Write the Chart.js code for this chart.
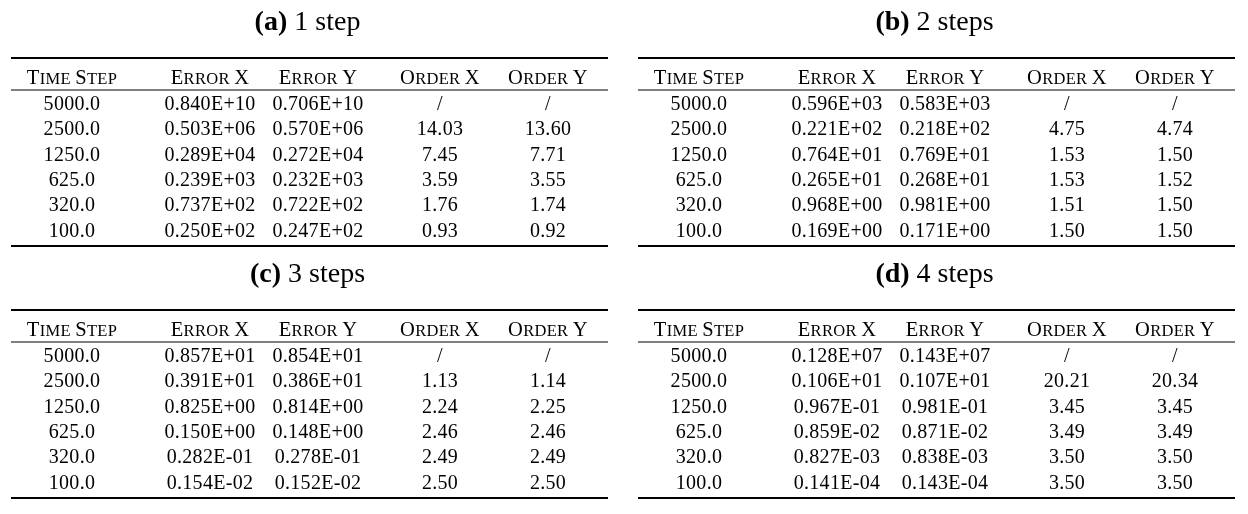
<!DOCTYPE html>
<html><head><meta charset="utf-8">
<script src="https://cdn.jsdelivr.net/npm/chart.js@4.4.1/dist/chart.umd.min.js"></script>
<style>html,body{margin:0;padding:0;background:#fff}#wrap{width:1248px;height:514px;position:relative}</style>
</head><body><div id="wrap"><canvas id="c" width="1248" height="514"></canvas></div>
<script>
// ---------- data ----------
const panelTitles = [['(a)', ' 1 step'], ['(b)', ' 2 steps'], ['(c)', ' 3 steps'], ['(d)', ' 4 steps']];
const headers = ['Time Step', 'Error X', 'Error Y', 'Order X', 'Order Y'];
const timeSteps = ['5000.0', '2500.0', '1250.0', '625.0', '320.0', '100.0'];

const errX1 = ['0.840E+10', '0.503E+06', '0.289E+04', '0.239E+03', '0.737E+02', '0.250E+02'];
const errY1 = ['0.706E+10', '0.570E+06', '0.272E+04', '0.232E+03', '0.722E+02', '0.247E+02'];
const ordX1 = ['/', '14.03', '7.45', '3.59', '1.76', '0.93'];
const ordY1 = ['/', '13.60', '7.71', '3.55', '1.74', '0.92'];

const errX2 = ['0.596E+03', '0.221E+02', '0.764E+01', '0.265E+01', '0.968E+00', '0.169E+00'];
const errY2 = ['0.583E+03', '0.218E+02', '0.769E+01', '0.268E+01', '0.981E+00', '0.171E+00'];
const ordX2 = ['/', '4.75', '1.53', '1.53', '1.51', '1.50'];
const ordY2 = ['/', '4.74', '1.50', '1.52', '1.50', '1.50'];

const errX3 = ['0.857E+01', '0.391E+01', '0.825E+00', '0.150E+00', '0.282E-01', '0.154E-02'];
const errY3 = ['0.854E+01', '0.386E+01', '0.814E+00', '0.148E+00', '0.278E-01', '0.152E-02'];
const ordX3 = ['/', '1.13', '2.24', '2.46', '2.49', '2.50'];
const ordY3 = ['/', '1.14', '2.25', '2.46', '2.49', '2.50'];

const errX4 = ['0.128E+07', '0.106E+01', '0.967E-01', '0.859E-02', '0.827E-03', '0.141E-04'];
const errY4 = ['0.143E+07', '0.107E+01', '0.981E-01', '0.871E-02', '0.838E-03', '0.143E-04'];
const ordX4 = ['/', '20.21', '3.45', '3.49', '3.50', '3.50'];
const ordY4 = ['/', '20.34', '3.45', '3.49', '3.50', '3.50'];

const panelColumns = [
  [timeSteps, errX1, errY1, ordX1, ordY1],
  [timeSteps, errX2, errY2, ordX2, ordY2],
  [timeSteps, errX3, errY3, ordX3, ordY3],
  [timeSteps, errX4, errY4, ordX4, ordY4]
];

// ---------- layout ----------
const W = 1248, H = 514;
const panelLeft = [11, 638, 11, 638];
const panelTop = [0, 0, 252, 252];
const tableWidth = 597;
const colCenter = [61, 199, 307, 429, 537];
const titleY = 20, topRuleY = 58, headerY = 77, midRuleY = 90, firstRowY = 103, rowGap = 25.4, bottomRuleY = 246;

const SERIF = '"Liberation Serif", "Times New Roman", serif';
const cellSize = 20;
const cellSpacing = '0.3px';
const capBig = 20.5, capSmall = 16.5;
const titleSize = 28;

const datasets = [];
panelColumns.forEach((cols, p) => {
  const L = panelLeft[p], T = panelTop[p];
  [[topRuleY, 2], [midRuleY, 1.2], [bottomRuleY, 2]].forEach(([ry, w]) => {
    datasets.push({
      type: 'line', showLine: true, borderColor: '#000', borderWidth: w,
      pointRadius: 0, fill: false,
      data: [{ x: L, y: T + ry }, { x: L + tableWidth, y: T + ry }]
    });
  });
  datasets.push({ textKind: 'title', pointRadius: 0, showLine: false,
    data: [{ x: L + tableWidth / 2 - 2, y: T + titleY, label: panelTitles[p] }] });
  datasets.push({ textKind: 'header', pointRadius: 0, showLine: false,
    data: headers.map((h, j) => ({ x: L + colCenter[j], y: T + headerY, label: h })) });
  const cells = [];
  cols.forEach((col, j) => col.forEach((v, i) => cells.push({ x: L + colCenter[j], y: T + firstRowY + i * rowGap, label: v })));
  datasets.push({ textKind: 'cell', pointRadius: 0, showLine: false, data: cells });
});

function drawSmallCaps(ctx, text, cx, baseline) {
  const parts = [];
  for (const ch of text) {
    const big = ch !== ch.toLowerCase();
    parts.push({ s: ch.toUpperCase(), size: big ? capBig : capSmall });
  }
  let total = 0;
  ctx.letterSpacing = '0.3px';
  parts.forEach(pt => { ctx.font = pt.size + 'px ' + SERIF; pt.w = ctx.measureText(pt.s).width; total += pt.w; });
  let x = cx - total / 2;
  ctx.textAlign = 'left';
  parts.forEach(pt => { ctx.font = pt.size + 'px ' + SERIF; ctx.fillText(pt.s, x, baseline); x += pt.w; });
  ctx.letterSpacing = '0px';
}

const textPlugin = {
  id: 'tableText',
  afterDatasetsDraw(chart) {
    const ctx = chart.ctx;
    ctx.save();
    ctx.fillStyle = '#000';
    ctx.textBaseline = 'alphabetic';
    chart.data.datasets.forEach((ds, di) => {
      if (!ds.textKind) return;
      const meta = chart.getDatasetMeta(di);
      meta.data.forEach((el, k) => {
        const item = ds.data[k];
        if (ds.textKind === 'cell') {
          ctx.font = cellSize + 'px ' + SERIF; ctx.textAlign = 'center';
          ctx.letterSpacing = cellSpacing;
          ctx.fillText(item.label, el.x, el.y + 6.8);
          ctx.letterSpacing = '0px';
        } else if (ds.textKind === 'header') {
          drawSmallCaps(ctx, item.label, el.x, el.y + 7);
        } else if (ds.textKind === 'title') {
          const [b, r] = item.label;
          ctx.font = 'bold ' + titleSize + 'px ' + SERIF; const wb = ctx.measureText(b).width;
          ctx.font = titleSize + 'px ' + SERIF; const wr = ctx.measureText(r).width;
          let x = el.x - (wb + wr) / 2;
          ctx.textAlign = 'left';
          ctx.font = 'bold ' + titleSize + 'px ' + SERIF; ctx.fillText(b, x, el.y + 9.5);
          ctx.font = titleSize + 'px ' + SERIF; ctx.fillText(r, x + wb, el.y + 9.5);
        }
      });
    });
    ctx.restore();
  }
};

new Chart(document.getElementById('c'), {
  type: 'scatter',
  data: { datasets },
  options: {
    responsive: false, animation: false, devicePixelRatio: 1,
    layout: { padding: 0 },
    plugins: { legend: { display: false }, tooltip: { enabled: false } },
    scales: {
      x: { type: 'linear', min: 0, max: W, display: false },
      y: { type: 'linear', min: 0, max: H, reverse: true, display: false }
    },
    elements: { point: { radius: 0, hoverRadius: 0 } }
  },
  plugins: [textPlugin]
});
</script>
</body></html>
